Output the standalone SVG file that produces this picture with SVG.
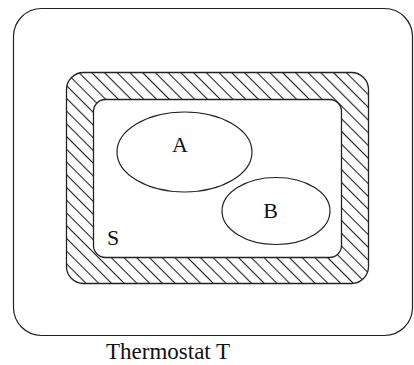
<svg xmlns="http://www.w3.org/2000/svg" width="414" height="365" viewBox="0 0 414 365">
  <style>
    .ln { fill: none; stroke: #222; stroke-width: 1.2; }
    .lbl { font-family: "Liberation Serif", "Times New Roman", serif; fill: #111; }
  </style>
  <defs>
    <pattern id="hatch" patternUnits="userSpaceOnUse" width="9" height="9" patternTransform="rotate(45)">
      <rect width="9" height="9" fill="#fff"/>
      <line x1="0" y1="4.5" x2="9" y2="4.5" stroke="#222" stroke-width="1.1"/>
    </pattern>
  </defs>
  <rect width="414" height="365" fill="#fff"/>
  <g id="thermostat">
    <rect class="ln" x="13.5" y="8.5" width="399" height="327" rx="28" ry="28"/>
    <text class="lbl" x="106" y="359" font-size="23">Thermostat T</text>
  </g>
  <g id="wall">
    <rect x="66.5" y="72.5" width="302" height="211" rx="17" ry="17" fill="url(#hatch)" stroke="#222" stroke-width="1.3"/>
  </g>
  <g id="S">
    <rect x="93.5" y="99.5" width="248" height="158" rx="12" ry="12" fill="#fff" stroke="#222" stroke-width="1.3"/>
    <text class="lbl" x="107" y="245" font-size="22">S</text>
  </g>
  <g id="A">
    <ellipse class="ln" cx="184.5" cy="152" rx="67.5" ry="40"/>
    <text class="lbl" x="180" y="152" font-size="22" text-anchor="middle">A</text>
  </g>
  <g id="B">
    <ellipse class="ln" cx="276" cy="211" rx="54" ry="33.5"/>
    <text class="lbl" x="270.5" y="218" font-size="22" text-anchor="middle">B</text>
  </g>
  <g id="connectors"></g>
</svg>
